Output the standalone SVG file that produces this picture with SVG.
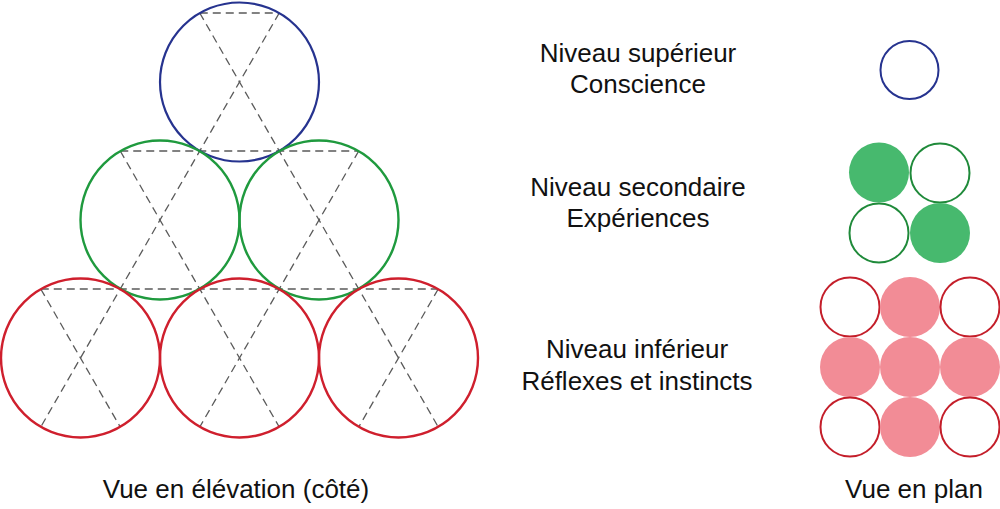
<svg xmlns="http://www.w3.org/2000/svg" width="1000" height="509" viewBox="0 0 1000 509">
<style>
.dash{stroke:#5a5a5a;stroke-width:1.3;stroke-dasharray:8 5;fill:none}
.b{stroke:#26338f;stroke-width:2.2;fill:none}
.g{stroke:#1f9a3e;stroke-width:2.4;fill:none}
.r{stroke:#cf1f2d;stroke-width:2.4;fill:none}
.gp{stroke:#1f8a3a;stroke-width:2;fill:#fff}
.gf{fill:#47b96e}
.rp{stroke:#c41e2a;stroke-width:2;fill:#fff}
.rf{fill:#f28c96}
.t{font-family:"Liberation Sans",Arial,sans-serif;font-size:26px;fill:#111;text-anchor:middle}
</style>
<rect width="1000" height="509" fill="#fff"/>
<g id="connectors">
<line class="dash" x1="279.25" y1="13" x2="40.75" y2="427"/>
<line class="dash" x1="199.75" y1="13" x2="438.25" y2="427"/>
<line class="dash" x1="120.25" y1="151" x2="279.25" y2="427"/>
<line class="dash" x1="358.75" y1="151" x2="199.75" y2="427"/>
<line class="dash" x1="40.75" y1="289" x2="120.25" y2="427"/>
<line class="dash" x1="438.25" y1="289" x2="358.75" y2="427"/>
<line class="dash" x1="199.75" y1="13" x2="279.25" y2="13"/>
<line class="dash" x1="120.25" y1="151" x2="358.75" y2="151"/>
<line class="dash" x1="40.75" y1="289" x2="438.25" y2="289"/>
</g>
<g id="elevation-top"><circle class="b" cx="239.5" cy="82" r="79.5"/></g>
<g id="elevation-mid-1"><circle class="g" cx="160" cy="220" r="79.5"/></g>
<g id="elevation-mid-2"><circle class="g" cx="319" cy="220" r="79.5"/></g>
<g id="elevation-low-1"><circle class="r" cx="80.5" cy="358" r="79.5"/></g>
<g id="elevation-low-2"><circle class="r" cx="239.5" cy="358" r="79.5"/></g>
<g id="elevation-low-3"><circle class="r" cx="398.5" cy="358" r="79.5"/></g>
<g id="label-top">
<text class="t" x="638" y="62">Niveau supérieur</text>
<text class="t" x="638" y="93">Conscience</text>
</g>
<g id="label-mid">
<text class="t" x="638" y="196">Niveau secondaire</text>
<text class="t" x="638" y="227">Expériences</text>
</g>
<g id="label-low">
<text class="t" x="637" y="358">Niveau inférieur</text>
<text class="t" x="637" y="390">Réflexes et instincts</text>
</g>
<g id="plan-top"><circle class="b" cx="909.5" cy="70" r="29" style="stroke-width:2"/></g>
<g id="plan-mid">
<circle class="gf" cx="879" cy="172.5" r="30"/>
<circle class="gp" cx="940" cy="173" r="29.5"/>
<circle class="gp" cx="879" cy="233" r="29.5"/>
<circle class="gf" cx="940" cy="233" r="30"/>
</g>
<g id="plan-low">
<circle class="rp" cx="850" cy="307" r="29.5"/>
<circle class="rf" cx="910" cy="307" r="30"/>
<circle class="rp" cx="970" cy="307" r="29.5"/>
<circle class="rf" cx="850" cy="367" r="30"/>
<circle class="rf" cx="910" cy="367" r="30"/>
<circle class="rf" cx="970" cy="367" r="30"/>
<circle class="rp" cx="850" cy="427" r="29.5"/>
<circle class="rf" cx="910" cy="427" r="30"/>
<circle class="rp" cx="970" cy="427" r="29.5"/>
</g>
<g id="captions">
<text class="t" x="236" y="498">Vue en élévation (côté)</text>
<text class="t" x="914" y="498">Vue en plan</text>
</g>
</svg>
